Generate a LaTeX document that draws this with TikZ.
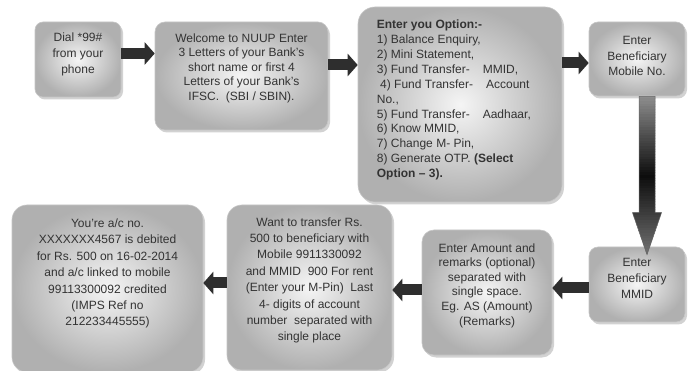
\documentclass[tikz,border=0pt]{standalone}
\usepackage{fontspec}
\setmainfont{Liberation Sans}
\usetikzlibrary{arrows.meta,shadows,calc}
\definecolor{txt}{HTML}{333333}
\tikzset{
  box/.style={rectangle, rounded corners=#1, draw=gray!45, line width=0.6pt,
    inner sep=0pt, shading=radial, inner color=gray!8, outer color=gray!62,
    drop shadow={shadow xshift=2pt, shadow yshift=-2.5pt, fill=gray!70, opacity=0.5}},
  box/.default=9pt,
  lbl/.style={inner sep=0pt, align=center, text=txt},
  harrow/.style={line width=11pt, draw=black!82, -{Triangle[width=22pt,length=10pt]}},
}
\begin{document}
\begin{tikzpicture}[x=1pt,y=-1pt]
\useasboundingbox (0,0) rectangle (688,371);
\fill[white] (0,0) rectangle (688,371);
% boxes
\node[box=8pt, minimum width=86pt, minimum height=75pt] (b1) at (78,59.5) {};
\node[box=10pt, minimum width=173pt, minimum height=108pt] (b2) at (241.5,76) {};
\node[box=17pt, minimum width=204pt, minimum height=195pt] (b3) at (460,104.5) {};
\node[box=9pt, minimum width=96pt, minimum height=74pt] (b4) at (637,59) {};
\node[box=9pt, minimum width=96pt, minimum height=75pt] (b5) at (637,284.5) {};
\node[box=12pt, minimum width=130pt, minimum height=125pt] (b6) at (487,292.5) {};
\node[box=15pt, minimum width=165pt, minimum height=165pt] (b7) at (309.5,287.5) {};
\node[box=15pt, minimum width=191pt, minimum height=167pt] (b8) at (107.5,288.5) {};
% texts
\node[lbl, font=\fontsize{12}{16}\selectfont] (t1) at ([yshift=5pt]b1.center)
  {Dial *99\#\\from your\\phone};
\node[lbl, font=\fontsize{12}{14.5}\selectfont] (t2) at ([yshift=8pt]b2.center)
  {Welcome to NUUP Enter\\3 Letters of your Bank's\\short name or first 4\\Letters of your Bank's\\IFSC.\ \ (SBI / SBIN).};
\node[lbl, align=left, anchor=west, font=\fontsize{12}{14.9}\selectfont] (t3) at ([xshift=19pt,yshift=4.5pt]b3.west)
  {\textbf{Enter you Option:-}\\
   1) Balance Enquiry,\\
   2) Mini Statement,\\
   3) Fund Transfer-\hspace{13pt}MMID,\\
   \ 4) Fund Transfer-\hspace{13pt}Account\\
   No.,\\
   5) Fund Transfer-\hspace{13pt}Aadhaar,\\
   6) Know MMID,\\
   7) Change M- Pin,\\
   8) Generate OTP. \textbf{(Select}\\
   \textbf{Option -- 3).}};
\node[lbl, font=\fontsize{12}{15.3}\selectfont] (t4) at ([yshift=3pt]b4.center)
  {Enter\\Beneficiary\\Mobile No.};
\node[lbl, font=\fontsize{12}{16}\selectfont] (t5) at ([yshift=6pt]b5.center)
  {Enter\\Beneficiary\\MMID};
\node[lbl, font=\fontsize{12}{14.6}\selectfont] (t6) at ([yshift=7pt]b6.center)
  {Enter Amount and\\remarks (optional)\\separated with\\single space.\\Eg. AS (Amount)\\(Remarks)};
\node[lbl, font=\fontsize{12}{16.4}\selectfont] (t7) at ([yshift=7pt]b7.center)
  {Want to transfer Rs.\\500 to beneficiary with\\Mobile 9911330092\\and MMID\ \ 900 For rent\\(Enter your M-Pin)\ \ Last\\4- digits of account\\number\ \ separated with\\single place};
\node[lbl, font=\fontsize{12}{16.4}\selectfont] (t8) at ([yshift=15pt]b8.center)
  {You're a/c no.\\XXXXXXX4567 is debited\\for Rs. 500 on 16-02-2014\\and a/c linked to mobile\\99113300092 credited\\(IMPS Ref no\\212233445555)};
% arrows
\draw[harrow] ([yshift=6pt]b1.east) -- ([yshift=6pt]b1.east -| b2.west);
\draw[harrow] ([yshift=11pt]b2.east) -- ([yshift=11pt]b2.east -| b3.west);
\draw[harrow] ([yshift=41.5pt]b3.east) -- ([yshift=41.5pt]b3.east -| b4.west);
\draw[harrow] ([yshift=-3.5pt]b5.west) -- ([yshift=-3.5pt]b5.west -| b6.east);
\draw[harrow] ([yshift=2.5pt]b6.west) -- ([yshift=2.5pt]b6.west -| b7.east);
\draw[harrow] ([yshift=4.5pt]b7.west) -- ([yshift=4.5pt]b7.west -| b8.east);
% vertical arrow b4 -> b5
\coordinate (vs) at ([xshift=10pt]b4.south);
\coordinate (ve) at ([xshift=10pt,yshift=-8pt]b5.north);
\begin{scope}
  \clip ($(vs)+(-8,0)$) -- ($(vs)+(8,0)$) -- ($(ve)+(8,-42)$) -- ($(ve)+(14.5,-42)$)
    -- (ve) -- ($(ve)+(-14.5,-42)$) -- ($(ve)+(-8,-42)$) -- cycle;
  \foreach \i in {0,...,59} {
    \pgfmathsetmacro\fa{\i/60}
    \pgfmathsetmacro\fb{(\i+1)/60}
    \pgfmathsetmacro\cc{\fa<0.5 ? 45+100*\fa : 95-80*(\fa-0.5)}
    \fill[black!\cc] ($(vs)!\fa!(ve)+(-20,-0.5)$) rectangle ($(vs)!\fb!(ve)+(20,0.5)$);
  }
\end{scope}
\draw[black!60, line width=0.5pt]
  ($(vs)+(-8,0)$) -- ($(vs)+(8,0)$) -- ($(ve)+(8,-42)$) -- ($(ve)+(14.5,-42)$)
  -- (ve) -- ($(ve)+(-14.5,-42)$) -- ($(ve)+(-8,-42)$) -- cycle;
\end{tikzpicture}
\end{document}
